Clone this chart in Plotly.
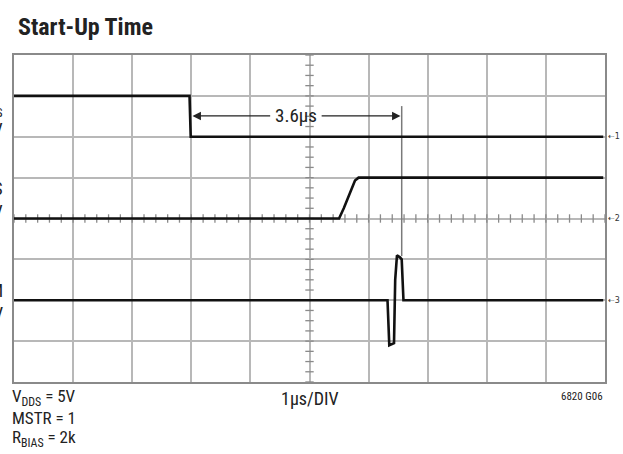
import plotly.graph_objects as go

# ---- data (divisions: x 0..10, y -4..4) ----
ch1_x = [0.0, 2.97, 2.99, 9.97]
ch1_y = [3.0, 3.0, 2.0, 2.0]

ch2_x = [0.0, 5.50, 5.58, 5.70, 5.77, 5.83, 9.97]
ch2_y = [0.0, 0.0, 0.25, 0.68, 0.93, 1.0, 1.0]

ch3_x = [0.0, 6.32, 6.35, 6.43, 6.45, 6.48, 6.53, 6.56, 6.59, 9.97]
ch3_y = [-2.0, -2.0, -3.1, -3.05, -1.5, -0.9, -0.95, -1.0, -2.0, -2.0]

channel_labels = ["V<sub>DDS</sub><br>5V/DIV", "CS<br>5V/DIV", "IP – IM<br>1V/DIV"]
channel_label_y = [2.46, 0.45, -2.05]
channel_markers = ["1", "2", "3"]
channel_marker_y = [2.0, 0.0, -2.0]

cursor_x = 6.56
cursor_y = [2.75, -0.92]
meas_start, meas_end, meas_y = 3.02, 6.54, 2.51
meas_text = "3.6µs"

FONT = "Liberation Sans Narrow, Roboto Condensed, DejaVu Sans Condensed, Arial Narrow, sans-serif"

fig = go.Figure()

# minor graticule ticks on the centre cross
fig.add_trace(go.Scatter(
    x=[5.0] * 33, y=[-4 + 0.25 * i for i in range(33)], mode="markers",
    marker=dict(symbol="line-ew", size=6, line=dict(width=1.3, color="#8a8a8a")),
    hoverinfo="skip", showlegend=False))
fig.add_trace(go.Scatter(
    x=[0.2 * i for i in range(51)], y=[0.0] * 51, mode="markers",
    marker=dict(symbol="line-ns", size=6, line=dict(width=1.3, color="#8a8a8a")),
    hoverinfo="skip", showlegend=False))

# cursor line
fig.add_trace(go.Scatter(x=[cursor_x, cursor_x], y=cursor_y, mode="lines",
                         line=dict(color="#7a7a7a", width=1.5),
                         hoverinfo="skip", showlegend=False))

for xs, ys in [(ch1_x, ch1_y), (ch2_x, ch2_y), (ch3_x, ch3_y)]:
    fig.add_trace(go.Scatter(x=xs, y=ys, mode="lines",
                             line=dict(color="#111111", width=2.6),
                             hoverinfo="skip", showlegend=False))

# measurement arrows
fig.add_annotation(x=meas_start, y=meas_y, ax=4.36, ay=meas_y, xref="x", yref="y",
                   axref="x", ayref="y", text="", showarrow=True, arrowhead=2,
                   arrowsize=1.3, arrowwidth=1.3, arrowcolor="#222")
fig.add_annotation(x=meas_end, y=meas_y, ax=5.18, ay=meas_y, xref="x", yref="y",
                   axref="x", ayref="y", text="", showarrow=True, arrowhead=2,
                   arrowsize=1.3, arrowwidth=1.3, arrowcolor="#222")
fig.add_annotation(x=(4.36 + 5.18) / 2, y=meas_y, xref="x", yref="y", text=meas_text,
                   showarrow=False, font=dict(family=FONT, size=19, color="#222"))

for lab, ly in zip(channel_labels, channel_label_y):
    fig.add_annotation(x=0, y=ly, xref="paper", yref="y", text=lab, showarrow=False,
                       xanchor="right", align="right", xshift=-9,
                       font=dict(family=FONT, size=18, color="#222"))

for m, my in zip(channel_markers, channel_marker_y):
    fig.add_annotation(x=1, y=my, xref="paper", yref="y", text="⇠" + m, showarrow=False,
                       xanchor="left", xshift=1,
                       font=dict(family="DejaVu Sans", size=8, color="#333"))

PLOT_H = 327.0
def py(p):
    return (382.0 - p) / PLOT_H

fig.add_annotation(x=0, y=py(27), xref="paper", yref="paper",
                   text="<b>Start-Up Time</b>", showarrow=False, xanchor="left",
                   yanchor="middle", xshift=2, font=dict(family=FONT, size=24, color="#222"))

fig.add_annotation(x=0, y=py(397), xref="paper", yref="paper",
                   text="V<sub>DDS</sub> = 5V", showarrow=False, xanchor="left",
                   yanchor="middle", xshift=-4, font=dict(family=FONT, size=17, color="#222"))
fig.add_annotation(x=0, y=py(418), xref="paper", yref="paper",
                   text="MSTR = 1", showarrow=False, xanchor="left",
                   yanchor="middle", xshift=-4, font=dict(family=FONT, size=17, color="#222"))
fig.add_annotation(x=0, y=py(438), xref="paper", yref="paper",
                   text="R<sub>BIAS</sub> = 2k", showarrow=False, xanchor="left",
                   yanchor="middle", xshift=-4, font=dict(family=FONT, size=17, color="#222"))
fig.add_annotation(x=0.5, y=py(398), xref="paper", yref="paper",
                   text="1µs/DIV", showarrow=False, xanchor="center",
                   yanchor="middle", font=dict(family=FONT, size=18, color="#222"))
fig.add_annotation(x=1, y=py(396), xref="paper", yref="paper",
                   text="6820 G06", showarrow=False, xanchor="right",
                   yanchor="middle", font=dict(family=FONT, size=11, color="#222"))

axis_common = dict(showgrid=True, gridcolor="#b8b8b8", gridwidth=1.5, zeroline=False,
                   showticklabels=False, ticks="", showline=True, linecolor="#8a8a8a",
                   linewidth=2, mirror=True, fixedrange=True)
fig.update_xaxes(range=[0, 10], dtick=1, tick0=0, **axis_common)
fig.update_yaxes(range=[-4, 4], dtick=1, tick0=0, **axis_common)

fig.update_layout(width=623, height=454,
                  margin=dict(l=14, r=18, t=55, b=72, autoexpand=False),
                  paper_bgcolor="white", plot_bgcolor="white", showlegend=False)

fig.write_html("out.html", config={"displayModeBar": False},
               post_script="document.body.style.margin='0';document.body.style.overflow='hidden';")
